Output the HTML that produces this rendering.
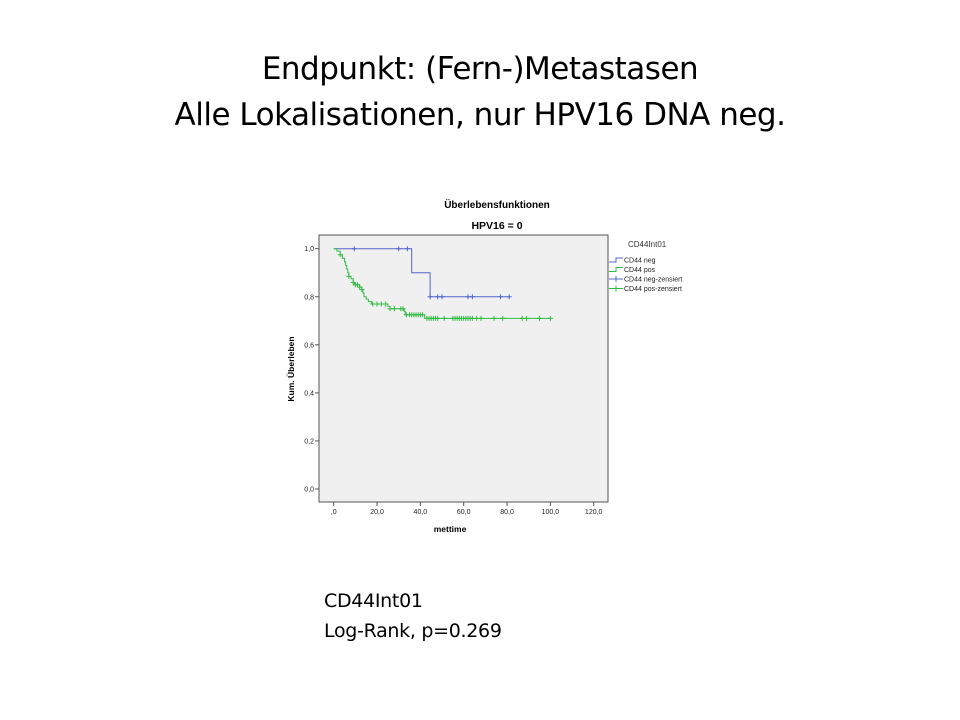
<!DOCTYPE html>
<html><head><meta charset="utf-8"><style>
body{margin:0;width:960px;height:720px;background:#fff;overflow:hidden;position:relative;font-family:"Liberation Sans",sans-serif}
.title{position:absolute;top:46px;left:0;width:960px;text-align:center;font-size:31px;line-height:46px;color:#000;font-family:"DejaVu Sans","Liberation Sans",sans-serif;letter-spacing:-0.5px}
.note{position:absolute;left:324px;top:586px;font-size:19px;line-height:30px;font-family:"DejaVu Sans","Liberation Sans",sans-serif;letter-spacing:-0.3px}
</style></head><body>
<div class="title">Endpunkt: (Fern-)Metastasen<br>Alle Lokalisationen, nur HPV16 DNA neg.</div>
<svg id="chart" width="960" height="720" style="position:absolute;left:0;top:0">
<text x="497" y="208" font-size="10" font-weight="bold" text-anchor="middle">Überlebensfunktionen</text>
<text x="497" y="229" font-size="10.5" font-weight="bold" text-anchor="middle">HPV16 = 0</text>
<rect x="319" y="235" width="289" height="267" fill="#f0f0f0" stroke="#555" stroke-width="1"/>
<text x="450" y="532" font-size="8.5" font-weight="bold" text-anchor="middle">mettime</text>
<text transform="translate(294,369) rotate(-90)" font-size="8.5" font-weight="bold" text-anchor="middle">Kum. Überleben</text>
<g id="axes"></g><g id="series"></g>
<text x="628" y="247" font-size="8" fill="#333">CD44Int01</text>
<g id="legend"></g>
</svg>
<div class="note">CD44Int01<br>Log-Rank, p=0.269</div>
<script>
const xTicks=[0,20,40,60,80,100,120];
const xTickLabels=[",0","20,0","40,0","60,0","80,0","100,0","120,0"];
const yTicks=[0,0.2,0.4,0.6,0.8,1.0];
const yTickLabels=["0,0","0,2","0,4","0,6","0,8","1,0"];
const negTimes=[0,36,44.5];
const negSurv=[1.0,0.9,0.8];
const negEnd=81;
const negCensor=[9.5,30,34,44.5,48,50,62,64,77,81];
const posTimes=[0,1.5,3,4,5,5.5,6,6.5,7,8,9,9.5,12,13,13.5,14,15,16,17.5,25,26,32.5,33,42];
const posSurv=[1.0,0.99,0.975,0.96,0.945,0.93,0.915,0.9,0.885,0.875,0.86,0.85,0.84,0.83,0.815,0.8,0.79,0.78,0.77,0.76,0.75,0.74,0.725,0.71];
const posEnd=100;
const posCensor=[3,7,9,10,11,12,13,18,20,22,24,26,28,31,32,33.5,35,36,37,38,39,40,41,43,44,45,46,47,48,51,55,56,57,58,59,60,61,62,63,64,66,68,74,78,87,89,95,100];
const X=v=>333.7+v*260/120, Y=v=>489-v*240.3;
const NS="http://www.w3.org/2000/svg";
function mk(tag,attrs,parent){const e=document.createElementNS(NS,tag);for(const k in attrs)e.setAttribute(k,attrs[k]);parent.appendChild(e);return e;}
const axes=document.getElementById('axes');
xTicks.forEach((t,i)=>{
 const l=mk('line',{x1:X(t),x2:X(t),y1:502,y2:506,stroke:'#555'},axes);
 
 
 const tx=mk('text',{x:X(t),y:514,'font-size':7,'text-anchor':'middle',fill:'#222'},axes);tx.textContent=xTickLabels[i];
 
 
});
yTicks.forEach((t,i)=>{
 const l=mk('line',{x1:315,x2:319,y1:Y(t),y2:Y(t),stroke:'#555'},axes);
 
 
 const tx=mk('text',{x:314,y:Y(t)+2.5,'font-size':7,'text-anchor':'end',fill:'#222'},axes);tx.textContent=yTickLabels[i];
 
 
});
const ser=document.getElementById('series');
function km(times,surv,end,cens,color,name){
 let d='M'+X(times[0])+','+Y(surv[0]);
 for(let i=1;i<times.length;i++){d+=' H'+X(times[i])+' V'+Y(surv[i]);}
 d+=' H'+X(end);
 const p=mk('path',{d:d,fill:'none',stroke:color,'stroke-width':1},ser);
 
 
 cens.forEach(c=>{let s=surv[0];for(let i=0;i<times.length;i++)if(times[i]<=c)s=surv[i];
  const m=mk('path',{d:'M'+(X(c)-2.5)+','+Y(s)+' h5 M'+X(c)+','+(Y(s)-2.5)+' v5',stroke:color,'stroke-width':1},ser);
  
  
 });
}
km(negTimes,negSurv,negEnd,negCensor,'#5566cc','cd44-neg');
km(posTimes,posSurv,posEnd,posCensor,'#33bb44','cd44-pos');
const lg=document.getElementById('legend');
const items=[['CD44 neg','#5566cc',0],['CD44 pos','#33bb44',0],['CD44 neg-zensiert','#5566cc',1],['CD44 pos-zensiert','#33bb44',1]];
items.forEach((it,i)=>{const y=260+i*9.5;
 const g=mk('g',{},lg);
 
 
 if(it[2]) mk('path',{d:`M609,${y} h14 M616,${y-3} v6`,stroke:it[1],fill:'none'},g);
 else mk('path',{d:`M609,${y+2} h7 v-4 h7`,stroke:it[1],fill:'none'},g);
 const t=mk('text',{x:624,y:y+2.5,'font-size':7,fill:'#222'},g);t.textContent=it[0];
});
</script>
</body></html>
